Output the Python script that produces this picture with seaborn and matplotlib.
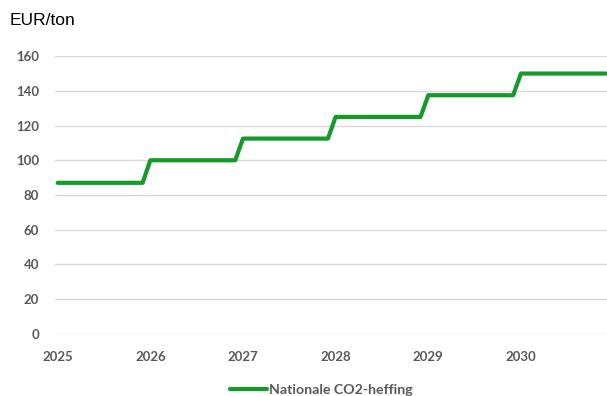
import numpy as np
import pandas as pd
import matplotlib
matplotlib.use("Agg")
import matplotlib.pyplot as plt
import seaborn as sns

sns.set_style("white")
plt.rcParams['font.family'] = ['Lato', 'DejaVu Sans']

# monthly values of the national CO2 levy (EUR/ton), Jan 2025 .. Dec 2030
levy_2025 = [87, 87, 87, 87, 87, 87, 87, 87, 87, 87, 87, 87]
levy_2026 = [100, 100, 100, 100, 100, 100, 100, 100, 100, 100, 100, 100]
levy_2027 = [112.5, 112.5, 112.5, 112.5, 112.5, 112.5, 112.5, 112.5, 112.5, 112.5, 112.5, 112.5]
levy_2028 = [125, 125, 125, 125, 125, 125, 125, 125, 125, 125, 125, 125]
levy_2029 = [137.5, 137.5, 137.5, 137.5, 137.5, 137.5, 137.5, 137.5, 137.5, 137.5, 137.5, 137.5]
levy_2030 = [150, 150, 150, 150, 150, 150, 150, 150, 150, 150, 150, 150]
years = ['2025', '2026', '2027', '2028', '2029', '2030']
series_name = 'Nationale CO2-heffing'

values = levy_2025 + levy_2026 + levy_2027 + levy_2028 + levy_2029 + levy_2030
df = pd.DataFrame({'month': range(len(values)), 'levy': values})

green = '#14992a'
grey = '#595959'

fig = plt.figure(figsize=(6.07, 3.96), dpi=100)
ax = fig.add_axes([55 / 607, 62.3 / 396, 551.6 / 607, 277.5 / 396])

sns.lineplot(data=df, x='month', y='levy', color=green, linewidth=3,
             label=series_name, ax=ax, legend=False)

ax.set_xlim(-0.35, 71.1)
ax.set_ylim(0, 160)
ax.set_yticks(range(0, 161, 20))
ax.set_xticks(range(0, len(values), 12))
ax.set_xticklabels(years)
ax.set_xlabel('')
ax.set_ylabel('')
ax.grid(axis='y', color='#d9d9d9', linewidth=1)
ax.set_axisbelow(True)
sns.despine(ax=ax, left=True, bottom=True)
ax.tick_params(axis='both', length=0, labelsize=9.5, labelcolor=grey)
ax.tick_params(axis='y', pad=11.5)
ax.tick_params(axis='x', pad=12.5)
for lbl in ax.get_xticklabels() + ax.get_yticklabels():
    lbl.set_fontweight('bold')

fig.text(10 / 607, 1 - 25 / 396, 'EUR/ton', fontsize=12.5,
         family=['Liberation Sans', 'DejaVu Sans'], color='#000000', va='baseline')

handles, labels = ax.get_legend_handles_labels()
leg = fig.legend(handles, labels, loc='center', bbox_to_anchor=(321 / 607, 1 - 390 / 396),
                 frameon=False, handlelength=2.6, handletextpad=0.15,
                 prop={'family': 'Lato', 'weight': 'bold', 'size': 10.2})
for t in leg.get_texts():
    t.set_color(grey)

fig.savefig('out.png', dpi=100)
